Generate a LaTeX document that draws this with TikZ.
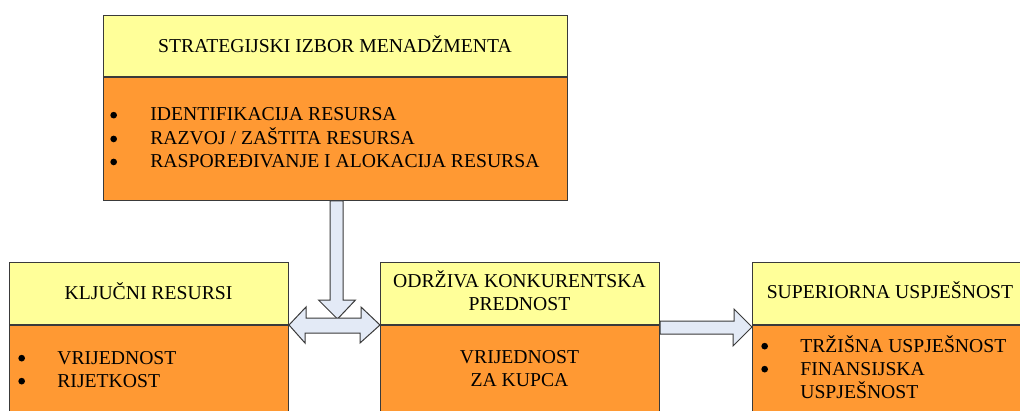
\documentclass[tikz,border=0pt]{standalone}
\usepackage{fontspec}
\setmainfont{Liberation Serif}
\usetikzlibrary{calc}
\definecolor{zuta}{HTML}{FFFF99}
\definecolor{narandz}{HTML}{FF9933}
\definecolor{plava}{HTML}{E3EAF6}
\definecolor{rub}{HTML}{3A3A3A}
\newcommand{\tocka}{\raisebox{1.5pt}{\tikz\fill (0,0) circle (2pt);}}
\begin{document}
\begin{tikzpicture}[x=0.6pt,y=-0.6pt]
\tikzset{glava/.style={draw=rub, fill=zuta, line width=0.6pt, anchor=north west, inner sep=0pt},
tijelo/.style={draw=rub, fill=narandz, line width=0.6pt, anchor=north west, inner sep=0pt},
natpis/.style={anchor=base, inner sep=0pt, font=\fontsize{11.8}{13.8}\selectfont},
popis/.style={anchor=base west, inner sep=0pt, font=\fontsize{11.8}{13.8}\selectfont},
strelica/.style={draw=rub, fill=plava, line width=0.6pt, line join=miter}}
\useasboundingbox (0,0) rectangle (1020,411);
\clip (0,0) rectangle (1020,411);
% strateski izbor
\node[glava, minimum width=278.4pt, minimum height=36.6pt] (smH) at (103,15) {};
\node[tijelo, minimum width=278.4pt, minimum height=73.8pt] (smB) at (smH.south west) {};
\node[natpis] (smT) at (335,53) {STRATEGIJSKI IZBOR MENADŽMENTA};
\node[popis] (smL) at (110,121) {\begin{tabular}[t]{@{}p{24pt}@{}l@{}}
\tocka & IDENTIFIKACIJA RESURSA\\
\tocka & RAZVOJ / ZAŠTITA RESURSA\\
\tocka & RASPOREĐIVANJE I ALOKACIJA RESURSA
\end{tabular}};
% kljucni resursi
\node[glava, minimum width=167.4pt, minimum height=37.2pt] (krH) at (9,262) {};
\node[tijelo, minimum width=167.4pt, minimum height=90pt] (krB) at (krH.south west) {};
\node[natpis] (krT) at (148.5,299) {KLJUČNI RESURSI};
\node[popis] (krL) at (18,364) {\begin{tabular}[t]{@{}p{23.4pt}@{}l@{}}
\tocka & VRIJEDNOST\\
\tocka & RIJETKOST
\end{tabular}};
% odrziva prednost
\node[glava, minimum width=167.4pt, minimum height=37.2pt] (okH) at (380,262) {};
\node[tijelo, minimum width=167.4pt, minimum height=90pt] (okB) at (okH.south west) {};
\node[natpis] (okT) at (519.5,287) {\begin{tabular}[t]{@{}c@{}}
ODRŽIVA KONKURENTSKA\\PREDNOST
\end{tabular}};
\node[natpis] (okL) at (519.5,363) {\begin{tabular}[t]{@{}c@{}}
VRIJEDNOST\\ZA KUPCA
\end{tabular}};
% superiorna uspjesnost
\node[glava, minimum width=167.4pt, minimum height=37.2pt] (spH) at (752,262) {};
\node[tijelo, minimum width=167.4pt, minimum height=90pt] (spB) at (spH.south west) {};
\node[natpis] (spT) at (890,298) {SUPERIORNA USPJEŠNOST};
\node[popis] (spL) at (761,352) {\begin{tabular}[t]{@{}p{23.4pt}@{}l@{}}
\tocka & TRŽIŠNA USPJEŠNOST\\
\tocka & FINANSIJSKA\\
 & USPJEŠNOST
\end{tabular}};
% strelice
\draw[strelica] ($(smB.south)+(-5.5,0)$) -- ++(0,99) -- ++(-11.5,0)
  -- ($(smB.south)+(2,118)$) -- ++(18,-19) -- ++(-12.5,0) -- ($(smB.south)+(7.5,0)$) -- cycle;
\draw[strelica] (krB.north east) -- ++(17,-18) -- ++(0,11) -- ++(55,0) -- ++(0,-11)
  -- (okB.north west) -- ++(-20,18) -- ++(0,-10) -- ++(-55,0) -- ++(0,10) -- cycle;
\draw[strelica] ($(okB.north east)+(0,-4)$) -- ++(74,0) -- ++(0,-12)
  -- ($(spB.north west)+(0,2)$) -- ++(-19,19) -- ++(0,-12) -- ($(okB.north east)+(0,9)$) -- cycle;
\end{tikzpicture}
\end{document}
